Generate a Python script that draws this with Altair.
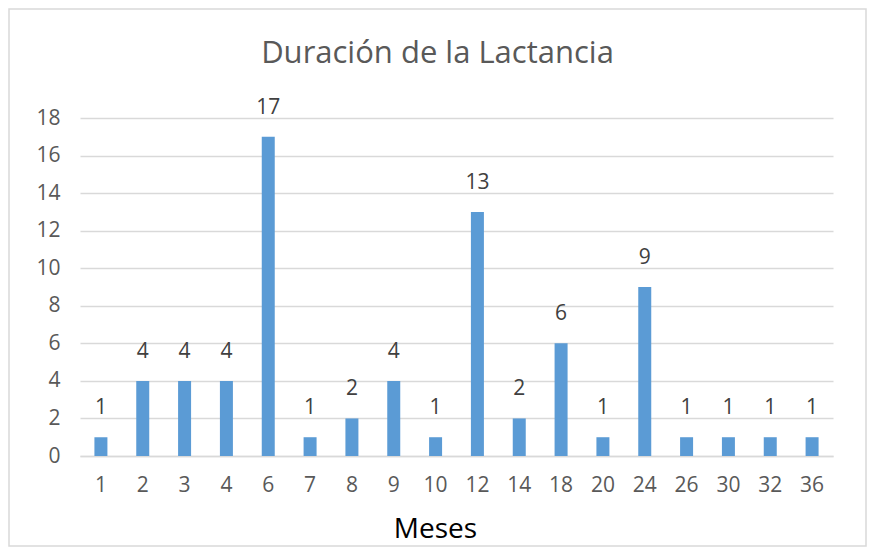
import altair as alt
import pandas as pd

meses = ["1", "2", "3", "4", "6", "7", "8", "9", "10", "12", "14", "18", "20", "24", "26", "30", "32", "36"]
frecuencia = [1, 4, 4, 4, 17, 1, 2, 4, 1, 13, 2, 6, 1, 9, 1, 1, 1, 1]
y_ticks = [0, 2, 4, 6, 8, 10, 12, 14, 16, 18]

df = pd.DataFrame({"Meses": meses, "Frecuencia": frecuencia})

W, H = 753, 338
PL, PT, PR, PB = 72, 110, 34, 91

x = alt.X("Meses:N", sort=meses, title="Meses",
          axis=alt.Axis(labelAngle=0, labelFontSize=21, labelColor="#595959",
                        labelFont="Open Sans", labelPadding=18, ticks=False,
                        domainColor="#d9d9d9", domainWidth=1.5,
                        titleFontSize=28, titleFont="Open Sans", titleColor="#000000",
                        titleFontWeight="normal", titlePadding=20,
                        titleX=355, titleAlign="center"))
y = alt.Y("Frecuencia:Q", title=None, scale=alt.Scale(domain=[0, 18]),
          axis=alt.Axis(values=y_ticks, labelFontSize=21, labelColor="#595959",
                        labelFont="Open Sans", labelPadding=20, ticks=False, domain=False,
                        gridColor="#d9d9d9", gridWidth=1.5, labelOverlap=False))

bars = alt.Chart(df).mark_bar(size=13, color="#5B9BD5").encode(x=x, y=y)
labels = alt.Chart(df).mark_text(dy=-29, fontSize=21, color="#404040", font="Open Sans").encode(
    x=x, y=y, text="Frecuencia:Q")

border = alt.Chart(pd.DataFrame({"a": [0]})).mark_rect(
    fill=None, stroke="#d9d9d9", strokeWidth=1.5, clip=False).encode(
    x=alt.value(-PL + 1), x2=alt.value(W + PR - 1),
    y=alt.value(-PT + 1), y2=alt.value(H + PB - 1))

chart = (border + bars + labels).properties(
    width=W, height=H,
    title=alt.TitleParams("Duración de la Lactancia", fontSize=31, font="Open Sans",
                          color="#595959", fontWeight="normal", offset=-62, dx=-19),
    padding={"left": PL, "top": PT, "right": PR, "bottom": PB},
    autosize=alt.AutoSizeParams(type="none"),
).configure_view(stroke=None)

chart.save("out.html", embed_options={"renderer": "svg", "actions": False})
